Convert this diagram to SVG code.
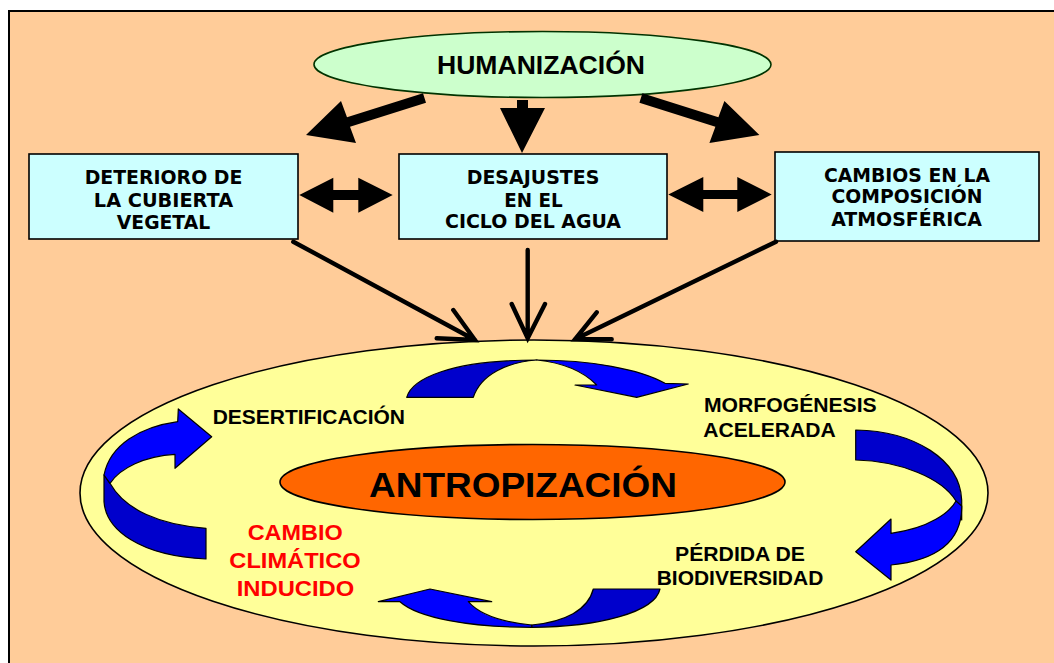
<svg xmlns="http://www.w3.org/2000/svg" width="1054" height="663" viewBox="0 0 1054 663">
<style>
.box{fill:#ccffff;stroke:#000;stroke-width:1.6}
.bt{font-family:"DejaVu Sans","Verdana",sans-serif;font-weight:bold;font-size:19px;fill:#000;text-anchor:middle}
.lt{font-family:"Liberation Sans",Arial,sans-serif;font-weight:bold;font-size:20.8px;fill:#000}
.red{fill:#ff0000;text-anchor:middle;font-size:22.5px}
.solid{fill:#000;stroke:none}
.line{fill:none;stroke:#000;stroke-width:4.4;stroke-linecap:round;stroke-linejoin:miter}
.dk{fill:#0000cc;stroke:#000;stroke-width:1.2;stroke-linejoin:round}
.br{fill:#0000ff;stroke:#000;stroke-width:1.2;stroke-linejoin:round}
</style>
<rect x="0" y="0" width="1054" height="663" fill="#ffffff"/>
<rect x="9" y="11" width="1070" height="680" fill="#ffcc99" stroke="#000" stroke-width="2"/>

<g id="humanizacion">
<ellipse cx="542.5" cy="64.5" rx="228.5" ry="33" fill="#ccffcc" stroke="#003300" stroke-width="1.6"/>
<text x="541" y="73.5" class="lt" style="font-size:25.5px;text-anchor:middle" textLength="208" lengthAdjust="spacingAndGlyphs">HUMANIZACIÓN</text>
</g>

<g id="deterioro">
<rect class="box" x="29" y="154" width="269" height="85"/>
<text class="bt" x="163.5" y="184.3" textLength="157.7" lengthAdjust="spacingAndGlyphs">DETERIORO DE</text>
<text class="bt" x="163.5" y="206.7" textLength="139.3" lengthAdjust="spacingAndGlyphs">LA CUBIERTA</text>
<text class="bt" x="163.5" y="229" textLength="93.3" lengthAdjust="spacingAndGlyphs">VEGETAL</text>
</g>

<g id="desajustes">
<rect class="box" x="399" y="154" width="268" height="85"/>
<text class="bt" x="533" y="184" textLength="132.7" lengthAdjust="spacingAndGlyphs">DESAJUSTES</text>
<text class="bt" x="533.5" y="206.7" textLength="58.3" lengthAdjust="spacingAndGlyphs">EN EL</text>
<text class="bt" x="533" y="228.3" textLength="176" lengthAdjust="spacingAndGlyphs">CICLO DEL AGUA</text>
</g>

<g id="cambios">
<rect class="box" x="775" y="152" width="264" height="89"/>
<text class="bt" x="907" y="181.7" textLength="166" lengthAdjust="spacingAndGlyphs">CAMBIOS EN LA</text>
<text class="bt" x="907" y="203.3" textLength="151" lengthAdjust="spacingAndGlyphs">COMPOSICIÓN</text>
<text class="bt" x="906.5" y="226" textLength="150.7" lengthAdjust="spacingAndGlyphs">ATMOSFÉRICA</text>
</g>

<g id="antropizacion-ring">
<ellipse cx="534" cy="493" rx="454" ry="153" fill="#ffff99" stroke="#000" stroke-width="1.6"/>
</g>

<g id="antropizacion">
<ellipse cx="532.5" cy="482" rx="252.5" ry="37.5" fill="#ff6600" stroke="#000" stroke-width="1.6"/>
<text x="523" y="496.7" class="lt" style="font-size:35.5px;text-anchor:middle" textLength="308" lengthAdjust="spacingAndGlyphs">ANTROPIZACIÓN</text>
</g>

<g id="desertificacion">
<text class="lt" x="212.7" y="424" textLength="192.3" lengthAdjust="spacingAndGlyphs">DESERTIFICACIÓN</text>
</g>

<g id="morfogenesis">
<text class="lt" x="704" y="412.3" textLength="172.7" lengthAdjust="spacingAndGlyphs">MORFOGÉNESIS</text>
<text class="lt" x="703.3" y="437.3" textLength="132.4" lengthAdjust="spacingAndGlyphs">ACELERADA</text>
</g>

<g id="perdida">
<text class="lt" x="675" y="560.7" textLength="130" lengthAdjust="spacingAndGlyphs">PÉRDIDA DE</text>
<text class="lt" x="656.7" y="585" textLength="166.6" lengthAdjust="spacingAndGlyphs">BIODIVERSIDAD</text>
</g>

<g id="cambio-climatico">
<text class="lt red" x="295.2" y="540" textLength="95" lengthAdjust="spacingAndGlyphs">CAMBIO</text>
<text class="lt red" x="295" y="568.3" textLength="131.3" lengthAdjust="spacingAndGlyphs">CLIMÁTICO</text>
<text class="lt red" x="295.5" y="596" textLength="117.6" lengthAdjust="spacingAndGlyphs">INDUCIDO</text>
</g>

<g id="connectors">
<polygon class="solid" points="423,93.2 347,117.2 341,101 306,135 356,143 350,126.8 426,102.8"/>
<polygon class="solid" points="517,100 528,100 528,108 545,108 522,153 500,108 517,108"/>
<polygon class="solid" points="642.4,93.2 718.4,117.2 724.4,101 759.4,135 709.4,143 715.4,126.8 639.4,102.8"/>
<polygon class="solid" points="299.3,195 333.3,177.7 333.3,190 358.3,190 358.3,177.7 392.7,195 358.3,212.7 358.3,200 333.3,200 333.3,212.7"/>
<polygon class="solid" points="668.3,194.5 703.3,177 703.3,190 737.3,190 737.3,177 771.7,194.5 737.3,212 737.3,199 703.3,199 703.3,212"/>
<path class="line" d="M293.3,241.7 L475,340 M436.7,338.3 L475,340 L453.3,310"/>
<path class="line" d="M527.7,250 L527.7,338.3 M511.7,304 L527.7,338.3 L545,304"/>
<path class="line" d="M776,241.7 L575,339.3 M611.7,339.3 L575,339.3 L596.7,312.3"/>

<path class="dk" d="M406.7,397.3 C412,379 450,360 536.7,360 C508,362 481,374 473.3,397.3 Z"/>
<path class="br" d="M536.7,360 C590,360 640,369 665,383.3 L688.3,384 L636.7,397.3 L575,385 L596.7,385 C583,371 565,363 536.7,360 Z"/>

<path class="dk" d="M961.7,500 C960,460 915,431 855.7,430 L855.7,460 C900,461 942,478 956,501 C959,507 961,515 961.7,520 Z"/>
<path class="br" d="M956,501 C950,512 930,528 891,533.3 L891,519 L855.7,551.7 L891,580 L891,565 C940,560 962,540 961.7,506 Z"/>

<path class="dk" d="M531.7,627.3 C600,627 655,612 660,589 L593.3,589 C588,610 565,622 531.7,625 Z"/>
<path class="br" d="M531.7,625 C500,622 480,615 468.3,601.7 L491.7,601.7 L430,589 L378.3,601.7 L400,601.7 C418,618 470,627.3 531.7,627.3 Z"/>

<path class="dk" d="M104,475 L104,501.7 C106,530 140,556 206,559 L206,528.3 C160,525 125,510 110,483.3 Z"/>
<path class="br" d="M177.7,421.7 C140,427 110,445 104,475 L110,483.3 C120,468 145,456 175,454.3 L175,468.3 L211.7,436.7 L178.3,409 Z"/>
</g>
</svg>
